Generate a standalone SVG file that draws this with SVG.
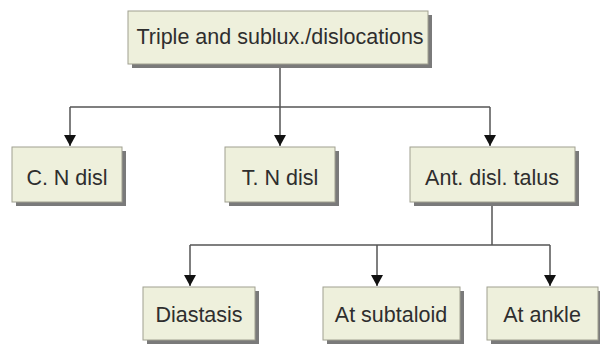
<svg xmlns="http://www.w3.org/2000/svg" width="600" height="344" viewBox="0 0 600 344">
<defs>
<marker id="ah" viewBox="0 0 11 12" refX="11" refY="6" markerWidth="11" markerHeight="12" markerUnits="userSpaceOnUse" orient="auto">
<path d="M0,0 L11,6 L0,12 Z" fill="#111"/>
</marker>
</defs>
<style>
.sh{fill:#7a7a7a}
.bx{fill:#eef0dc;stroke:#a0a090;stroke-width:1}
.tx{font-family:"Liberation Sans",Arial,sans-serif;font-size:21.5px;fill:#2e2e2e;text-anchor:middle}
.ln{fill:none;stroke:#555;stroke-width:1.5}
</style>
<rect width="600" height="344" fill="#fff"/>
<g id="connectors">
<path class="ln" d="M280,64 V107"/>
<path class="ln" d="M70,107 H490"/>
<path class="ln" d="M70,107 V146" marker-end="url(#ah)"/>
<path class="ln" d="M280,107 V146" marker-end="url(#ah)"/>
<path class="ln" d="M490,107 V146" marker-end="url(#ah)"/>
<path class="ln" d="M492,203 V245"/>
<path class="ln" d="M190,245 H550"/>
<path class="ln" d="M190,245 V286" marker-end="url(#ah)"/>
<path class="ln" d="M377,245 V286" marker-end="url(#ah)"/>
<path class="ln" d="M550,245 V286" marker-end="url(#ah)"/>
</g>
<g id="n-top">
<rect class="sh" x="132" y="15" width="300" height="53"/>
<rect class="bx" x="128" y="11" width="300" height="53"/>
<text class="tx" x="280" y="44">Triple and sublux./dislocations</text>
</g>
<g id="n-cn">
<rect class="sh" x="16" y="151" width="110" height="55"/>
<rect class="bx" x="12" y="147" width="110" height="55"/>
<text class="tx" x="67" y="185">C. N disl</text>
</g>
<g id="n-tn">
<rect class="sh" x="229" y="151" width="110" height="55"/>
<rect class="bx" x="225" y="147" width="110" height="55"/>
<text class="tx" x="280" y="185">T. N disl</text>
</g>
<g id="n-ant">
<rect class="sh" x="414" y="151" width="165" height="55"/>
<rect class="bx" x="410" y="147" width="165" height="55"/>
<text class="tx" x="492" y="185">Ant. disl. talus</text>
</g>
<g id="n-dia">
<rect class="sh" x="147" y="291" width="112" height="53"/>
<rect class="bx" x="143" y="287" width="112" height="53"/>
<text class="tx" x="199" y="322">Diastasis</text>
</g>
<g id="n-sub">
<rect class="sh" x="327" y="291" width="137" height="53"/>
<rect class="bx" x="323" y="287" width="137" height="53"/>
<text class="tx" x="391" y="322">At subtaloid</text>
</g>
<g id="n-ank">
<rect class="sh" x="491" y="291" width="111" height="53"/>
<rect class="bx" x="487" y="287" width="111" height="53"/>
<text class="tx" x="542" y="322">At ankle</text>
</g>
</svg>
